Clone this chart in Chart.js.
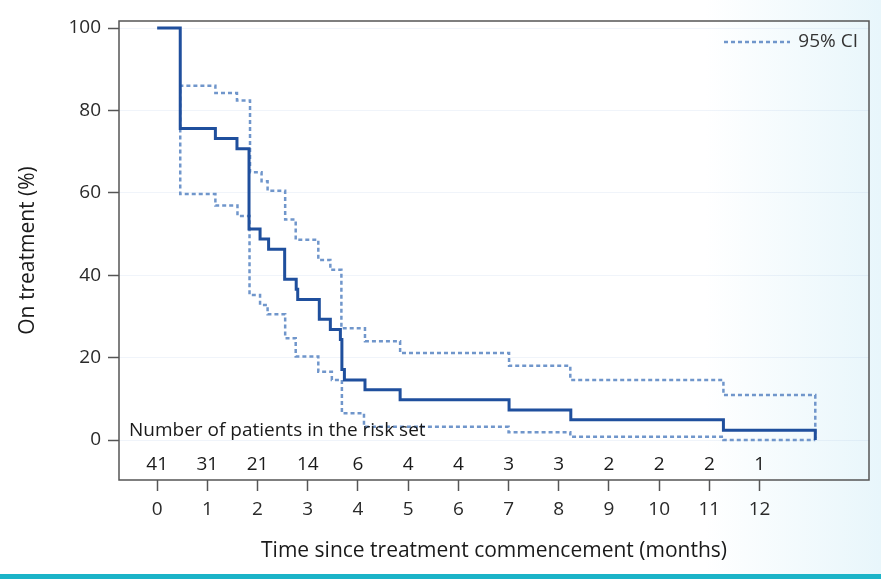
<!DOCTYPE html>
<html>
<head>
<meta charset="utf-8">
<script src="https://cdn.jsdelivr.net/npm/chart.js@4/dist/chart.umd.min.js"></script>
<style>
  html, body { margin: 0; padding: 0; }
  body {
    width: 881px; height: 579px; overflow: hidden; position: relative;
    background: linear-gradient(to right, #ffffff 0%, #ffffff 80%, #e8f6fb 100%);
  }
  #bar { position: absolute; left: 0; right: 0; bottom: 0; height: 5px; background: #1bb4c8; }
  canvas { position: absolute; left: 0; top: 0; }
</style>
</head>
<body>
<canvas id="myChart" width="881" height="579"></canvas>
<div id="bar"></div>
<script>
// months on the x axis and number still at risk at each month
const months = [0, 1, 2, 3, 4, 5, 6, 7, 8, 9, 10, 11, 12]
const riskSet = [41, 31, 21, 14, 6, 4, 4, 3, 3, 2, 2, 2, 1]
const yTicks = [0, 20, 40, 60, 80, 100]

// Kaplan-Meier estimate (time of event, % on treatment after it)
const kmTimes = [0, 0.46, 1.16, 1.59, 1.83, 2.05, 2.22, 2.54, 2.77, 2.80, 3.23, 3.45, 3.65, 3.68, 3.73, 4.14, 4.84, 7.01, 8.24, 11.28, 13.11]
const kmValues = [100, 75.6, 73.2, 70.7, 51.2, 48.8, 46.3, 39.0, 36.6, 34.1, 29.3, 26.8, 24.4, 17.1, 14.6, 12.2, 9.8, 7.3, 4.9, 2.4, 0]

// 95% confidence band (both start from the first drop of the curve)
const upperTimes = [0.46, 0.46, 1.16, 1.59, 1.85, 2.08, 2.20, 2.55, 2.76, 3.21, 3.45, 3.67, 4.14, 4.84, 7.01, 8.23, 11.28, 13.11]
const upperValues = [75.6, 86.0, 84.2, 82.4, 65.0, 62.8, 60.5, 53.5, 48.6, 43.7, 41.3, 27.1, 24.0, 21.1, 18.0, 14.6, 10.9, 0.5]
const lowerTimes = [0.46, 0.46, 1.16, 1.60, 1.84, 2.05, 2.20, 2.55, 2.76, 3.21, 3.48, 3.68, 4.12, 7.00, 8.23, 11.28, 13.11]
const lowerValues = [75.6, 59.7, 56.9, 54.4, 35.2, 32.8, 30.5, 24.7, 20.3, 16.6, 14.6, 6.5, 3.2, 1.9, 0.8, 0, 0]

const FONT = '"Open Sans", sans-serif'

function toPoints(xs, ys){
    return xs.map((x, i) => ({x: x, y: ys[i]}))
}

// frame, risk table and legend
const extras = {
    id: 'extras',
    afterDraw(chart){
        const ctx = chart.ctx
        const area = chart.chartArea
        const xs = chart.scales.x
        ctx.save()
        ctx.strokeStyle = '#555'
        ctx.lineWidth = 1.5
        ctx.strokeRect(area.left, area.top, area.right - area.left, area.bottom - area.top)

        ctx.fillStyle = '#1a1a1a'
        ctx.font = '19px ' + FONT
        ctx.textBaseline = 'middle'
        ctx.textAlign = 'left'
        ctx.fillText('Number of patients in the risk set', area.left + 10, area.bottom - 49)
        ctx.textAlign = 'center'
        months.forEach((m, i) => {
            ctx.fillText(String(riskSet[i]), xs.getPixelForValue(m), area.bottom - 15)
        })

        // legend entry for the CI lines
        const ds = chart.data.datasets[1]
        const ly = area.top + 21
        ctx.strokeStyle = ds.borderColor
        ctx.lineWidth = ds.borderWidth
        ctx.setLineDash(ds.borderDash)
        ctx.beginPath()
        ctx.moveTo(area.right - 145, ly)
        ctx.lineTo(area.right - 79, ly)
        ctx.stroke()
        ctx.setLineDash([])
        ctx.fillStyle = '#333'
        ctx.textAlign = 'right'
        ctx.fillText('95% CI', area.right - 11, ly)
        ctx.restore()
    }
}

var ctx = document.getElementById('myChart').getContext('2d')
var myChart = new Chart(ctx, {
    type: 'line',
    data: {
        datasets: [{
            label: 'On treatment',
            data: toPoints(kmTimes, kmValues),
            borderColor: '#1f4f9d',
            borderWidth: 3,
            stepped: true,
            pointRadius: 0,
            fill: false
        }, {
            label: '95% CI',
            data: toPoints(upperTimes, upperValues),
            borderColor: '#7096cb',
            borderWidth: 2.5,
            borderDash: [4, 3],
            stepped: true,
            pointRadius: 0,
            fill: false
        }, {
            label: '95% CI lower',
            data: toPoints(lowerTimes, lowerValues),
            borderColor: '#7096cb',
            borderWidth: 2.5,
            borderDash: [4, 3],
            stepped: true,
            pointRadius: 0,
            fill: false
        }]
    },
    options: {
        responsive: false,
        animation: false,
        devicePixelRatio: 1,
        layout: { padding: { top: 21, right: 12, left: 0, bottom: 0 } },
        plugins: { legend: { display: false }, tooltip: { enabled: false } },
        scales: {
            x: {
                type: 'linear',
                min: -0.76,
                max: 14.18,
                afterBuildTicks: s => { s.ticks = months.map(v => ({value: v})) },
                afterFit: s => { s.height = 99 },
                grid: { drawOnChartArea: false, tickLength: 11, tickColor: '#555', tickWidth: 1.5 },
                border: { display: false },
                ticks: { color: '#2a2a2a', font: { family: FONT, size: 19 }, padding: 7, maxRotation: 0, autoSkip: false },
                title: {
                    display: true,
                    text: 'Time since treatment commencement (months)',
                    color: '#1a1a1a',
                    font: { family: FONT, size: 21 },
                    padding: { top: 0, bottom: 15 }
                }
            },
            y: {
                min: -9.7,
                max: 101.7,
                afterBuildTicks: s => { s.ticks = yTicks.map(v => ({value: v})) },
                afterFit: s => { s.width = 119 },
                grid: { color: 'rgba(170,195,230,0.18)', tickLength: 11, tickColor: '#555', tickWidth: 1.5 },
                border: { display: false },
                ticks: { color: '#2a2a2a', font: { family: FONT, size: 19 }, padding: 7 },
                title: {
                    display: true,
                    text: 'On treatment (%)',
                    color: '#1a1a1a',
                    font: { family: FONT, size: 21 },
                    padding: { top: 15, bottom: 0 }
                }
            }
        }
    },
    plugins: [extras]
})
</script>
</body>
</html>
